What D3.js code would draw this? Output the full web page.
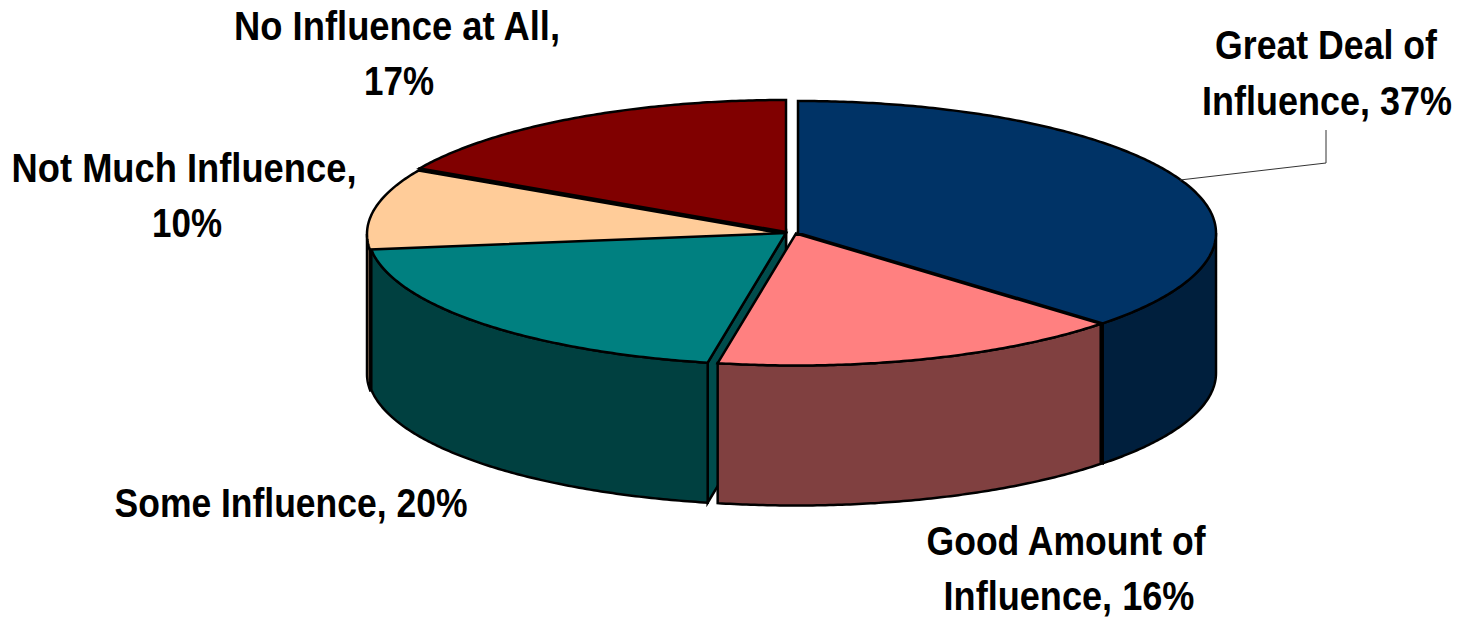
<!DOCTYPE html>
<html>
<head>
<meta charset="utf-8">
<script src="https://cdn.jsdelivr.net/npm/d3@7"></script>
<style>
    html, body { margin: 0; background: #fff; overflow: hidden; }
    text { font-family: "Liberation Sans", Arial, sans-serif; font-weight: bold; font-size: 41px; fill: #000; }
</style>
</head>
<body>
<svg id="chart" width="1460" height="618"></svg>
<script>
const categories = ["Great Deal of Influence", "Good Amount of Influence", "Some Influence", "Not Much Influence", "No Influence at All"];
const values = [37, 16, 20, 10, 17];
const topColors = ["#003366", "#ff8080", "#008080", "#ffcc99", "#800000"];
const sideColors = ["#001f3d", "#804040", "#004040", "#806650", "#400000"];
// where each exploded slice has its tip
const tipX = [798, 796, 786, 785, 786];
const tipY = [233, 233.5, 233, 234, 232];
// label lines, with the centre and baseline of each line
const labelLines = ["Great Deal of", "Influence, 37%", "Good Amount of", "Influence, 16%", "Some Influence, 20%", "Not Much Influence,", "10%", "No Influence at All,", "17%"];
const labelX = [1326, 1327, 1066, 1069, 291, 184, 187, 397, 399];
const labelY = [59, 115, 555, 610, 517, 182, 237, 40, 95];
const labelWidth = [222, 250, 279, 251, 353, 345, 70, 326, 70];
const leaderX = [1180, 1326, 1326];
const leaderY = [180, 163, 130];

const rx = 418, ry = 132, depth = 140;

const svg = d3.select("#chart");

const slices = d3.pie().sort(null).value(d => d)(values)
    .map((d, i) => ({...d, i: i, cx: tipX[i], cy: tipY[i]}));

const pointAt = (s, a, dy) => [s.cx + rx * Math.sin(a), s.cy - ry * Math.cos(a) + dy];
const line = d3.line();

function arcPoints(s, a0, a1, dy){
    const n = Math.max(2, Math.ceil((a1 - a0) / 0.01));
    return d3.range(n + 1).map(k => pointAt(s, a0 + (a1 - a0) * k / n, dy));
}

// radial cut faces which can be seen through the gaps
function faces(s){
    let out = [];
    if(s.endAngle > 0 && s.endAngle < Math.PI) out.push(s.endAngle);
    if(s.startAngle > Math.PI && s.startAngle < 2 * Math.PI) out.push(s.startAngle);
    return out;
}

// back to front
const drawOrder = [4, 3, 0, 2, 1];

drawOrder.forEach(i => {
    const s = slices[i];
    const g = svg.append("g").attr("class", "slice");

    faces(s).forEach(a => {
        g.append("path")
            .attr("d", line([[s.cx, s.cy], pointAt(s, a, 0), pointAt(s, a, depth), [s.cx, s.cy + depth]]) + "Z")
            .attr("fill", d3.rgb(sideColors[i]).brighter(0.5))
            .attr("stroke", "#000")
            .attr("stroke-width", 2.5);
    });

    // outer wall only where it faces the viewer
    const a0 = Math.max(s.startAngle, Math.PI / 2);
    const a1 = Math.min(s.endAngle, Math.PI * 3 / 2);
    if(a1 > a0){
        const pts = arcPoints(s, a0, a1, 0).concat(arcPoints(s, a0, a1, depth).reverse());
        g.append("path")
            .attr("d", line(pts) + "Z")
            .attr("fill", sideColors[i])
            .attr("stroke", "#000")
            .attr("stroke-width", 2.5);
    }

    const top = [[s.cx, s.cy]].concat(arcPoints(s, s.startAngle, s.endAngle, 0));
    g.append("path")
        .attr("d", line(top) + "Z")
        .attr("fill", topColors[i])
        .attr("stroke", "#000")
        .attr("stroke-width", 2.5)
        .attr("stroke-linejoin", "miter");
});

svg.append("path")
    .attr("d", line(leaderX.map((x, i) => [x, leaderY[i]])))
    .attr("fill", "none")
    .attr("stroke", "#333")
    .attr("stroke-width", 1);

// the reference's text is tall and narrow, so squeeze each line to its width
svg.selectAll("text.label")
    .data(labelLines)
    .join("text")
    .attr("class", "label")
    .attr("text-anchor", "middle")
    .text(d => d)
    .attr("transform", function(d, i){
        const k = labelWidth[i] / this.getComputedTextLength();
        return `translate(${labelX[i]},${labelY[i]}) scale(${k},1)`;
    });
</script>
</body>
</html>
